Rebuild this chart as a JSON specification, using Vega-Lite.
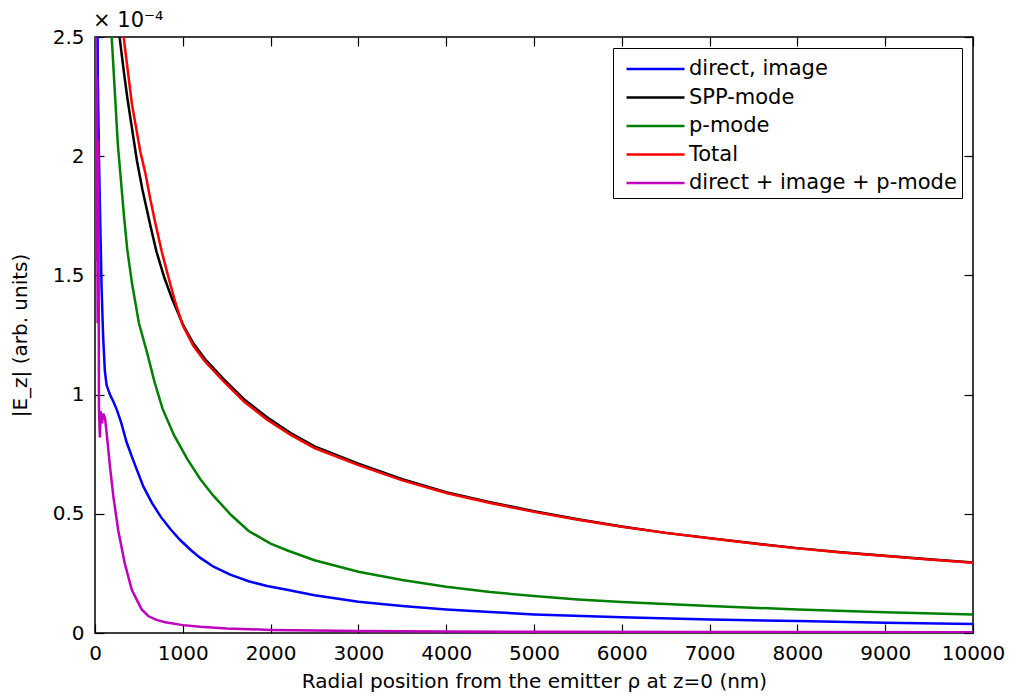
{
  "$schema": "https://vega.github.io/schema/vega-lite/v6.json",
  "width": 878,
  "height": 596,
  "autosize": {"type": "none"},
  "padding": {"left": 95, "top": 37, "right": 40, "bottom": 64},
  "background": "white",
  "title": {"text": "× 10⁻⁴", "anchor": "start", "frame": "group", "fontSize": 21, "font": "DejaVu Sans", "fontWeight": "normal", "color": "black", "offset": -4, "dx": -2},
  "config": {
    "view": {"stroke": "black", "strokeWidth": 1.5},
    "font": "DejaVu Sans",
    "axis": {"grid": false, "domain": false, "tickColor": "black", "tickWidth": 1.2, "tickSize": -9, "labelColor": "black", "labelFontSize": 20, "labelFont": "DejaVu Sans", "titleFont": "DejaVu Sans", "titleFontSize": 20, "titleFontWeight": "normal", "titleColor": "black", "labelOverlap": false, "labelFlush": false}
  },
  "data": {"values": [
    {"s": "direct, image", "x": 20, "y": 3.2}, {"s": "direct, image", "x": 28, "y": 2.6}, {"s": "direct, image", "x": 32, "y": 2.33}, {"s": "direct, image", "x": 45, "y": 2.0}, {"s": "direct, image", "x": 60, "y": 1.72}, {"s": "direct, image", "x": 75, "y": 1.45}, {"s": "direct, image", "x": 92, "y": 1.25}, {"s": "direct, image", "x": 112, "y": 1.1}, {"s": "direct, image", "x": 132, "y": 1.04}, {"s": "direct, image", "x": 170, "y": 1.0}, {"s": "direct, image", "x": 210, "y": 0.97}, {"s": "direct, image", "x": 250, "y": 0.935}, {"s": "direct, image", "x": 300, "y": 0.88}, {"s": "direct, image", "x": 360, "y": 0.8}, {"s": "direct, image", "x": 440, "y": 0.72}, {"s": "direct, image", "x": 550, "y": 0.615}, {"s": "direct, image", "x": 650, "y": 0.545}, {"s": "direct, image", "x": 750, "y": 0.487}, {"s": "direct, image", "x": 860, "y": 0.435}, {"s": "direct, image", "x": 970, "y": 0.39}, {"s": "direct, image", "x": 1100, "y": 0.345}, {"s": "direct, image", "x": 1200, "y": 0.315}, {"s": "direct, image", "x": 1350, "y": 0.278}, {"s": "direct, image", "x": 1540, "y": 0.245}, {"s": "direct, image", "x": 1750, "y": 0.217}, {"s": "direct, image", "x": 1960, "y": 0.197}, {"s": "direct, image", "x": 2200, "y": 0.18}, {"s": "direct, image", "x": 2500, "y": 0.158}, {"s": "direct, image", "x": 3000, "y": 0.131}, {"s": "direct, image", "x": 3500, "y": 0.113}, {"s": "direct, image", "x": 4000, "y": 0.099}, {"s": "direct, image", "x": 4500, "y": 0.088}, {"s": "direct, image", "x": 5000, "y": 0.078}, {"s": "direct, image", "x": 6000, "y": 0.066}, {"s": "direct, image", "x": 7000, "y": 0.057}, {"s": "direct, image", "x": 8000, "y": 0.05}, {"s": "direct, image", "x": 9000, "y": 0.043}, {"s": "direct, image", "x": 10000, "y": 0.038},

    {"s": "SPP-mode", "x": 250, "y": 2.75}, {"s": "SPP-mode", "x": 280, "y": 2.5}, {"s": "SPP-mode", "x": 330, "y": 2.35}, {"s": "SPP-mode", "x": 370, "y": 2.24}, {"s": "SPP-mode", "x": 420, "y": 2.12}, {"s": "SPP-mode", "x": 478, "y": 1.98}, {"s": "SPP-mode", "x": 540, "y": 1.86}, {"s": "SPP-mode", "x": 630, "y": 1.71}, {"s": "SPP-mode", "x": 700, "y": 1.6}, {"s": "SPP-mode", "x": 790, "y": 1.49}, {"s": "SPP-mode", "x": 880, "y": 1.4}, {"s": "SPP-mode", "x": 1000, "y": 1.295}, {"s": "SPP-mode", "x": 1120, "y": 1.215}, {"s": "SPP-mode", "x": 1250, "y": 1.15}, {"s": "SPP-mode", "x": 1465, "y": 1.065}, {"s": "SPP-mode", "x": 1700, "y": 0.98}, {"s": "SPP-mode", "x": 1960, "y": 0.905}, {"s": "SPP-mode", "x": 2224, "y": 0.84}, {"s": "SPP-mode", "x": 2500, "y": 0.783}, {"s": "SPP-mode", "x": 3000, "y": 0.71}, {"s": "SPP-mode", "x": 3500, "y": 0.645}, {"s": "SPP-mode", "x": 4000, "y": 0.591}, {"s": "SPP-mode", "x": 4500, "y": 0.549}, {"s": "SPP-mode", "x": 5000, "y": 0.511}, {"s": "SPP-mode", "x": 5500, "y": 0.477}, {"s": "SPP-mode", "x": 6000, "y": 0.447}, {"s": "SPP-mode", "x": 6500, "y": 0.42}, {"s": "SPP-mode", "x": 7000, "y": 0.398}, {"s": "SPP-mode", "x": 7500, "y": 0.376}, {"s": "SPP-mode", "x": 8000, "y": 0.356}, {"s": "SPP-mode", "x": 8500, "y": 0.339}, {"s": "SPP-mode", "x": 9000, "y": 0.324}, {"s": "SPP-mode", "x": 9500, "y": 0.309}, {"s": "SPP-mode", "x": 10000, "y": 0.296},

    {"s": "p-mode", "x": 175, "y": 2.6}, {"s": "p-mode", "x": 190, "y": 2.5}, {"s": "p-mode", "x": 260, "y": 2.05}, {"s": "p-mode", "x": 330, "y": 1.75}, {"s": "p-mode", "x": 367, "y": 1.61}, {"s": "p-mode", "x": 420, "y": 1.47}, {"s": "p-mode", "x": 500, "y": 1.3}, {"s": "p-mode", "x": 590, "y": 1.18}, {"s": "p-mode", "x": 680, "y": 1.05}, {"s": "p-mode", "x": 770, "y": 0.94}, {"s": "p-mode", "x": 900, "y": 0.83}, {"s": "p-mode", "x": 1050, "y": 0.73}, {"s": "p-mode", "x": 1200, "y": 0.645}, {"s": "p-mode", "x": 1350, "y": 0.575}, {"s": "p-mode", "x": 1550, "y": 0.495}, {"s": "p-mode", "x": 1750, "y": 0.428}, {"s": "p-mode", "x": 2000, "y": 0.375}, {"s": "p-mode", "x": 2200, "y": 0.345}, {"s": "p-mode", "x": 2500, "y": 0.305}, {"s": "p-mode", "x": 3000, "y": 0.257}, {"s": "p-mode", "x": 3500, "y": 0.222}, {"s": "p-mode", "x": 4000, "y": 0.194}, {"s": "p-mode", "x": 4500, "y": 0.172}, {"s": "p-mode", "x": 5000, "y": 0.155}, {"s": "p-mode", "x": 5500, "y": 0.141}, {"s": "p-mode", "x": 6000, "y": 0.13}, {"s": "p-mode", "x": 7000, "y": 0.113}, {"s": "p-mode", "x": 8000, "y": 0.099}, {"s": "p-mode", "x": 9000, "y": 0.087}, {"s": "p-mode", "x": 10000, "y": 0.078},

    {"s": "Total", "x": 300, "y": 2.65}, {"s": "Total", "x": 326, "y": 2.5}, {"s": "Total", "x": 420, "y": 2.22}, {"s": "Total", "x": 516, "y": 2.02}, {"s": "Total", "x": 573, "y": 1.93}, {"s": "Total", "x": 630, "y": 1.82}, {"s": "Total", "x": 687, "y": 1.72}, {"s": "Total", "x": 760, "y": 1.6}, {"s": "Total", "x": 838, "y": 1.49}, {"s": "Total", "x": 920, "y": 1.38}, {"s": "Total", "x": 1000, "y": 1.29}, {"s": "Total", "x": 1120, "y": 1.205}, {"s": "Total", "x": 1250, "y": 1.14}, {"s": "Total", "x": 1465, "y": 1.055}, {"s": "Total", "x": 1700, "y": 0.97}, {"s": "Total", "x": 1960, "y": 0.895}, {"s": "Total", "x": 2224, "y": 0.832}, {"s": "Total", "x": 2500, "y": 0.776}, {"s": "Total", "x": 3000, "y": 0.704}, {"s": "Total", "x": 3500, "y": 0.64}, {"s": "Total", "x": 4000, "y": 0.587}, {"s": "Total", "x": 4500, "y": 0.545}, {"s": "Total", "x": 5000, "y": 0.508}, {"s": "Total", "x": 5500, "y": 0.475}, {"s": "Total", "x": 6000, "y": 0.446}, {"s": "Total", "x": 6500, "y": 0.42}, {"s": "Total", "x": 7000, "y": 0.397}, {"s": "Total", "x": 7500, "y": 0.375}, {"s": "Total", "x": 8000, "y": 0.355}, {"s": "Total", "x": 8500, "y": 0.338}, {"s": "Total", "x": 9000, "y": 0.323}, {"s": "Total", "x": 9500, "y": 0.308}, {"s": "Total", "x": 10000, "y": 0.295},

    {"s": "direct + image + p-mode", "x": 0, "y": 2.8}, {"s": "direct + image + p-mode", "x": 8, "y": 2.2}, {"s": "direct + image + p-mode", "x": 15, "y": 1.56}, {"s": "direct + image + p-mode", "x": 22, "y": 2.33}, {"s": "direct + image + p-mode", "x": 30, "y": 1.3}, {"s": "direct + image + p-mode", "x": 38, "y": 2.07}, {"s": "direct + image + p-mode", "x": 45, "y": 0.95}, {"s": "direct + image + p-mode", "x": 55, "y": 0.82}, {"s": "direct + image + p-mode", "x": 65, "y": 0.93}, {"s": "direct + image + p-mode", "x": 80, "y": 0.88}, {"s": "direct + image + p-mode", "x": 95, "y": 0.92}, {"s": "direct + image + p-mode", "x": 115, "y": 0.9}, {"s": "direct + image + p-mode", "x": 135, "y": 0.83}, {"s": "direct + image + p-mode", "x": 170, "y": 0.7}, {"s": "direct + image + p-mode", "x": 210, "y": 0.57}, {"s": "direct + image + p-mode", "x": 265, "y": 0.43}, {"s": "direct + image + p-mode", "x": 340, "y": 0.29}, {"s": "direct + image + p-mode", "x": 420, "y": 0.18}, {"s": "direct + image + p-mode", "x": 530, "y": 0.1}, {"s": "direct + image + p-mode", "x": 610, "y": 0.07}, {"s": "direct + image + p-mode", "x": 700, "y": 0.055}, {"s": "direct + image + p-mode", "x": 800, "y": 0.045}, {"s": "direct + image + p-mode", "x": 1000, "y": 0.033}, {"s": "direct + image + p-mode", "x": 1200, "y": 0.026}, {"s": "direct + image + p-mode", "x": 1500, "y": 0.019}, {"s": "direct + image + p-mode", "x": 2000, "y": 0.013}, {"s": "direct + image + p-mode", "x": 2500, "y": 0.01}, {"s": "direct + image + p-mode", "x": 3000, "y": 0.008}, {"s": "direct + image + p-mode", "x": 4000, "y": 0.006}, {"s": "direct + image + p-mode", "x": 5000, "y": 0.005}, {"s": "direct + image + p-mode", "x": 7000, "y": 0.004}, {"s": "direct + image + p-mode", "x": 10000, "y": 0.003}
  ]},
  "layer": [
    {
      "mark": {"type": "line", "clip": true, "strokeWidth": 2.5},
      "encoding": {
        "x": {"field": "x", "type": "quantitative", "scale": {"domain": [0, 10000], "nice": false, "zero": false},
              "axis": {"orient": "bottom", "values": [0, 1000, 2000, 3000, 4000, 5000, 6000, 7000, 8000, 9000, 10000], "format": "d", "labelPadding": 19, "title": "Radial position from the emitter ρ at z=0 (nm)", "titlePadding": 8}},
        "y": {"field": "y", "type": "quantitative", "scale": {"domain": [0, 2.5], "nice": false, "zero": false},
              "axis": {"orient": "left", "values": [0, 0.5, 1, 1.5, 2, 2.5], "labelExpr": "'' + datum.value", "labelPadding": 20, "title": "|E_z| (arb. units)", "titlePadding": 22}},
        "color": {"field": "s", "type": "nominal",
                  "scale": {"domain": ["direct, image", "SPP-mode", "p-mode", "Total", "direct + image + p-mode"], "range": ["#0000ff", "#000000", "#008000", "#ff0000", "#bf00bf"]},
                  "legend": {"orient": "none", "legendX": 518, "legendY": 11, "title": null, "symbolType": "M-1,0H3", "symbolSize": 841, "symbolStrokeWidth": 2.5, "symbolOffset": 7, "labelFontSize": 21, "labelFont": "DejaVu Sans", "labelColor": "black", "labelOffset": 32, "labelLimit": 0, "strokeColor": "black", "fillColor": "white", "padding": 5, "rowPadding": 2.5}}
      }
    },
    {
      "mark": {"type": "line", "strokeOpacity": 0, "clip": true},
      "encoding": {
        "x": {"field": "x", "type": "quantitative", "scale": {"domain": [0, 10000], "nice": false, "zero": false},
              "axis": {"orient": "top", "values": [0, 1000, 2000, 3000, 4000, 5000, 6000, 7000, 8000, 9000, 10000], "labels": false, "title": null}},
        "y": {"field": "y", "type": "quantitative", "scale": {"domain": [0, 2.5], "nice": false, "zero": false},
              "axis": {"orient": "right", "values": [0, 0.5, 1, 1.5, 2, 2.5], "labels": false, "title": null}},
        "detail": {"field": "s"}
      }
    }
  ],
  "resolve": {"axis": {"x": "independent", "y": "independent"}}
}
